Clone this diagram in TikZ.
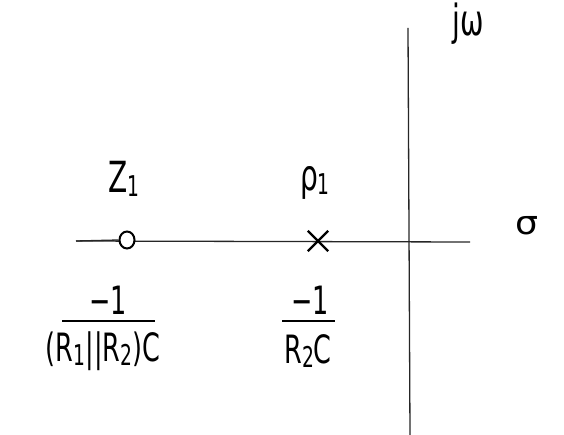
\documentclass[tikz,border=0pt]{standalone}
\usepackage{fontspec}
\usepackage{graphicx}
\usetikzlibrary{shapes.geometric}
\setmainfont{DejaVu Sans}
\newcommand{\sbs}[1]{\raisebox{-3pt}{\fontsize{22}{22}\selectfont #1}}
\newcommand{\tall}[1]{\scalebox{0.85}[1.3]{#1}}
\begin{document}
\begin{tikzpicture}[x=1pt,y=-1pt,
  axis/.style={line width=1.3pt,draw=black!85},
  lbl/.style={font=\fontsize{33}{35}\selectfont,inner sep=0pt},
  frac/.style={font=\fontsize{30}{32}\selectfont,inner sep=0pt},
  bar/.style={line width=1.7pt}]
\useasboundingbox (0,0) rectangle (564,435);
\coordinate (vtop) at (408,28);
\coordinate (vbot) at (410,435);
\coordinate (hl) at (76,241);
\coordinate (hr) at (470,242);
\draw[axis] (vtop) -- (vbot);
\draw[axis] (hl) -- (hr);
\node[draw=black,line width=2pt,ellipse,minimum width=15pt,minimum height=17pt,inner sep=0pt,fill=white] (zero) at (127,240) {};
\draw[axis] (hl) -- (zero.west);
\node[inner sep=0pt,minimum size=20pt] (pole) at (318,241) {};
\draw[line width=2.3pt] (pole.north west) -- (pole.south east) (pole.north east) -- (pole.south west);
\node[lbl] (zl) at (124,179) {\tall{Z\sbs{1}}};
\node[lbl] (pl) at (315,183) {\tall{ρ\sbs{1}}};
\node[lbl] (sig) at (527,226) {\scalebox{1.1}[1]{σ}};
\node[lbl] (jw) at (468,24) {\tall{jω}};
% fraction 1
\coordinate (b1l) at (62,321);
\coordinate (b1r) at (155,321);
\draw[bar] (b1l) -- (b1r);
\node[frac] (n1) at (108,300) {\tall{−1}};
\node[frac] (d1) at (103,351) {\tall{(R\sbs{1}||R\sbs{2})C}};
% fraction 2
\coordinate (b2l) at (282,321);
\coordinate (b2r) at (335,321);
\draw[bar] (b2l) -- (b2r);
\node[frac] (n2) at (310,300) {\tall{−1}};
\node[frac] (d2) at (308,351) {\tall{R\sbs{2}C}};
\end{tikzpicture}
\end{document}
